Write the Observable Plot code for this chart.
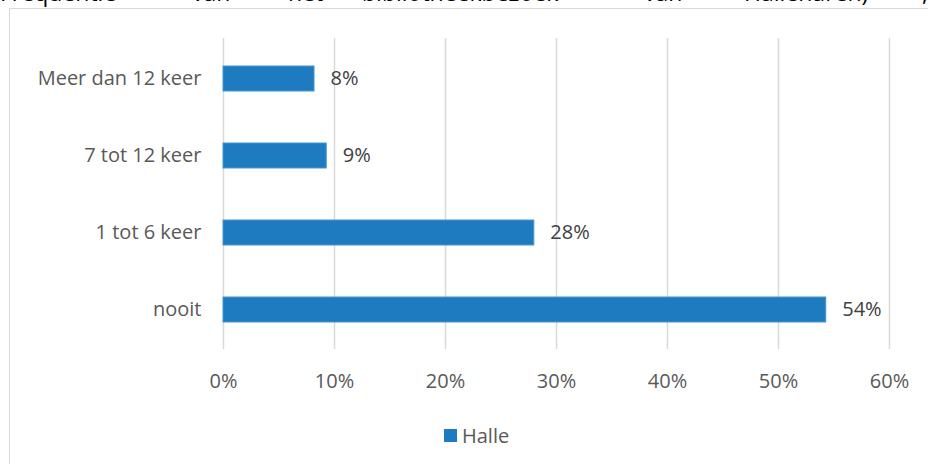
<!DOCTYPE html>
<html>
<head>
<meta charset="utf-8">
<script src="https://cdn.jsdelivr.net/npm/d3@7"></script>
<script src="https://cdn.jsdelivr.net/npm/@observablehq/plot@0.6"></script>
<style>
  html, body { margin: 0; padding: 0; background: #fff; overflow: hidden; }
  body { width: 928px; height: 464px; position: relative; font-family: "Open Sans", sans-serif; }
  #title { position: absolute; left: 0; top: -20px; width: 928px; height: 24px; font-size: 23px; line-height: 24px; color: #000; white-space: nowrap; }
  #title span { position: absolute; top: 0; }
  #frame { position: absolute; left: 9px; top: 8px; width: 940px; height: 470px; border: 1.5px solid #d9d9d9; box-sizing: border-box; }
  #chart { position: absolute; left: 0; top: 0; }
  #legend { position: absolute; top: 422px; left: 444px; font-size: 20px; color: #595959; display: flex; align-items: center; }
  #legend .sw { width: 13px; height: 13px; background: #1f7bc0; margin-right: 5px; }
</style>
</head>
<body>
<div id="title"><span style="left:0px">Frequentie</span><span style="left:192px">van</span><span style="left:288px">het</span><span style="left:362px">bibliotheekbezoek</span><span style="left:644px">van</span><span style="left:744px">Hallenaren)</span><span style="left:922px">,</span></div>
<div id="frame"></div>
<div id="chart"></div>
<div id="legend"><div class="sw"></div><span>Halle</span></div>
<script>
const categories = ["Meer dan 12 keer", "7 tot 12 keer", "1 tot 6 keer", "nooit"];
const values = [0.082, 0.093, 0.280, 0.543];
const labels = ["8%", "9%", "28%", "54%"];
const xTicks = [0, 0.1, 0.2, 0.3, 0.4, 0.5, 0.6];
const seriesName = "Halle";

const data = categories.map((c, i) => ({category: c, value: values[i], label: labels[i], series: seriesName}));

const chart = Plot.plot({
  width: 928,
  height: 400,
  marginLeft: 223,
  marginRight: 39,
  marginTop: 38,
  marginBottom: 51,
  style: { fontFamily: "Open Sans, sans-serif", fontSize: "20px", color: "#595959", background: "transparent" },
  x: { domain: [0, 0.6], ticks: xTicks, tickFormat: d => Math.round(d * 100) + "%", label: null },
  y: { domain: categories, paddingInner: 0.68, paddingOuter: 0.34, label: null },
  marks: [
    Plot.gridX(xTicks, { stroke: "#d9d9d9", strokeOpacity: 1, strokeWidth: 1.5 }),
    Plot.barX(data, { x: "value", y: "category", fill: "#1f7bc0", stroke: "#4a95d0", strokeWidth: 1 }),
    Plot.text(data, { x: "value", y: "category", text: "label", textAnchor: "start", dx: 16, fill: "#404040", fontSize: 20 }),
    Plot.axisX(xTicks, { tickSize: 0, tickPadding: 24, tickFormat: d => Math.round(d * 100) + "%", fill: "#595959", fontSize: 20, label: null }),
    Plot.axisY({ tickSize: 0, tickPadding: 22, fill: "#595959", fontSize: 20, label: null })
  ]
});
document.getElementById("chart").append(chart);
</script>
</body>
</html>
